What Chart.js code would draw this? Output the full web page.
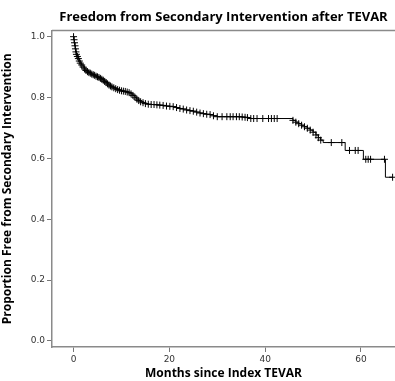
<!DOCTYPE html>
<html>
<head>
<meta charset="utf-8">
<script src="https://cdn.jsdelivr.net/npm/chart.js@4/dist/chart.umd.min.js"></script>
<style>
  body { margin: 0; background: #fff; }
  #wrap { width: 395px; height: 381px; }
</style>
</head>
<body>
<div id="wrap"><canvas id="km"></canvas></div>
<script>
var months = [
  0.0, 0.1, 0.2, 0.3, 0.4, 0.5, 0.6, 0.8, 1.0, 1.2, 1.4, 1.7, 2.0, 2.3, 2.6, 2.9,
  3.2, 3.5, 3.8, 4.1, 4.4, 4.7, 5.0, 5.3, 5.6, 5.9, 6.2, 6.5, 6.8, 7.1, 7.4, 7.7,
  8.0, 8.4, 8.8, 9.2, 9.6, 10.0, 10.4, 10.8, 11.2, 11.6, 12.0, 12.4, 12.8, 13.2,
  13.6, 14.0, 14.5, 15.0, 15.6, 16.2, 16.8, 17.4, 18.0, 18.7, 19.4, 20.1, 20.8,
  21.5, 22.2, 22.9, 23.6, 24.3, 25.0, 25.7, 26.4, 27.1, 27.8, 28.5, 29.2, 30.0,
  31.0, 32.0, 32.7, 33.3, 34.0, 34.6, 35.2, 35.8, 36.3, 37.0, 37.6, 38.3, 39.5,
  40.7, 41.3, 41.9, 42.5, 45.8, 46.4, 47.0, 47.6, 48.2, 48.8, 49.4, 50.0, 50.6,
  51.1, 51.6, 52.1, 53.8, 56.0, 56.7, 57.6, 58.8, 59.4, 60.5, 61.0, 61.5, 62.0,
  64.9, 65.1, 66.6
];
var survival = [
  1.000, 0.990, 0.980, 0.970, 0.960, 0.950, 0.942, 0.935, 0.928, 0.920, 0.913, 0.907, 0.900, 0.894, 0.889, 0.885,
  0.882, 0.880, 0.877, 0.875, 0.873, 0.870, 0.868, 0.866, 0.863, 0.860, 0.857, 0.853, 0.849, 0.845, 0.841, 0.838,
  0.835, 0.832, 0.829, 0.826, 0.824, 0.822, 0.821, 0.820, 0.818, 0.816, 0.812, 0.807, 0.801, 0.795,
  0.790, 0.786, 0.783, 0.780, 0.778, 0.777, 0.777, 0.776, 0.775, 0.774, 0.772, 0.771, 0.770,
  0.767, 0.764, 0.762, 0.759, 0.757, 0.755, 0.752, 0.749, 0.747, 0.745, 0.744, 0.740, 0.737,
  0.737, 0.737, 0.737, 0.737, 0.737, 0.737, 0.736, 0.735, 0.734, 0.731, 0.731, 0.731, 0.731,
  0.731, 0.731, 0.731, 0.731, 0.725, 0.719, 0.714, 0.709, 0.704, 0.699, 0.693, 0.686, 0.677,
  0.668, 0.660, 0.652, 0.652, 0.652, 0.626, 0.626, 0.626, 0.626, 0.597, 0.597, 0.597, 0.597,
  0.597, 0.538, 0.538
];
// 1 = censored (drawn as +), 0 = event only
var censored = [
  1, 1, 1, 1, 1, 1, 1, 1, 1, 1, 1, 1, 1, 1, 1, 1,
  1, 1, 1, 1, 1, 1, 1, 1, 1, 1, 1, 1, 1, 1, 1, 1,
  1, 1, 1, 1, 1, 1, 1, 1, 1, 1, 1, 1, 1, 1,
  1, 1, 1, 1, 1, 1, 1, 1, 1, 1, 1, 1, 1,
  1, 1, 1, 1, 1, 1, 1, 1, 1, 1, 1, 1, 1,
  1, 1, 1, 1, 1, 1, 1, 1, 1, 1, 1, 1, 1,
  1, 1, 1, 1, 1, 1, 1, 1, 1, 1, 1, 1, 1,
  1, 1, 0, 1, 1, 0, 1, 1, 1, 0, 1, 1, 1,
  1, 0, 1
];
var xTicks = [0, 20, 40, 60];
var yTicks = [0.0, 0.2, 0.4, 0.6, 0.8, 1.0];

var points = months.map(function (m, i) { return { x: m, y: survival[i] }; });

var topBorder = {
  id: 'topBorder',
  afterDraw: function (chart) {
    var a = chart.chartArea, c = chart.ctx;
    c.save();
    c.strokeStyle = '#8a8a8a';
    c.lineWidth = 1.5;
    c.beginPath();
    c.moveTo(a.left, a.top);
    c.lineTo(a.right, a.top);
    c.stroke();
    c.restore();
  }
};

var km = document.getElementById('km');
var kmChart = new Chart(km, {
  type: 'line',
  data: {
    datasets: [{
      data: points,
      borderColor: '#000',
      borderWidth: 1,
      stepped: true,
      fill: false,
      pointStyle: 'cross',
      pointRadius: function (ctx) { return censored[ctx.dataIndex] ? 3.5 : 0; },
      pointBorderColor: '#000',
      pointBorderWidth: 1
    }]
  },
  options: {
    responsive: true,
    maintainAspectRatio: false,
    animation: false,
    layout: { autoPadding: false, padding: { left: 0, right: 0, top: 0, bottom: 0 } },
    plugins: {
      legend: { display: false },
      tooltip: { enabled: false },
      title: {
        display: true,
        fullSize: false,
        text: 'Freedom from Secondary Intervention after TEVAR',
        color: '#000',
        font: { family: 'Open Sans', size: 13, weight: 'bold' },
        padding: { top: 9, bottom: 6 }
      }
    },
    scales: {
      x: {
        type: 'linear',
        min: -4.5,
        max: 67.1,
        afterBuildTicks: function (s) { s.ticks = xTicks.map(function (v) { return { value: v }; }); },
        afterFit: function (s) { s.height = 34; },
        grid: { display: true, drawOnChartArea: false, drawTicks: true, tickLength: 5, color: '#777' },
        border: { display: true, color: '#8a8a8a', width: 1.5 },
        ticks: { color: '#333', padding: 2, font: { family: 'DejaVu Sans', size: 9 } },
        title: {
          display: true,
          text: 'Months since Index TEVAR',
          color: '#000',
          font: { family: 'Open Sans', size: 12, weight: 'bold' },
          padding: { top: 0, bottom: 0 }
        }
      },
      y: {
        min: -0.02,
        max: 1.02,
        afterBuildTicks: function (s) { s.ticks = yTicks.map(function (v) { return { value: v }; }); },
        afterFit: function (s) { s.width = 52; },
        grid: { display: true, drawOnChartArea: false, drawTicks: true, tickLength: 5, color: '#777' },
        border: { display: true, color: '#8a8a8a', width: 1.5 },
        ticks: {
          color: '#333',
          padding: 2,
          font: { family: 'DejaVu Sans', size: 9 },
          callback: function (v) { return v.toFixed(1); }
        },
        title: {
          display: true,
          text: 'Proportion Free from Secondary Intervention',
          color: '#000',
          font: { family: 'Open Sans', size: 12, weight: 'bold' },
          padding: { top: 0, bottom: 4 }
        }
      }
    }
  },
  plugins: [topBorder]
});
</script>
</body>
</html>
